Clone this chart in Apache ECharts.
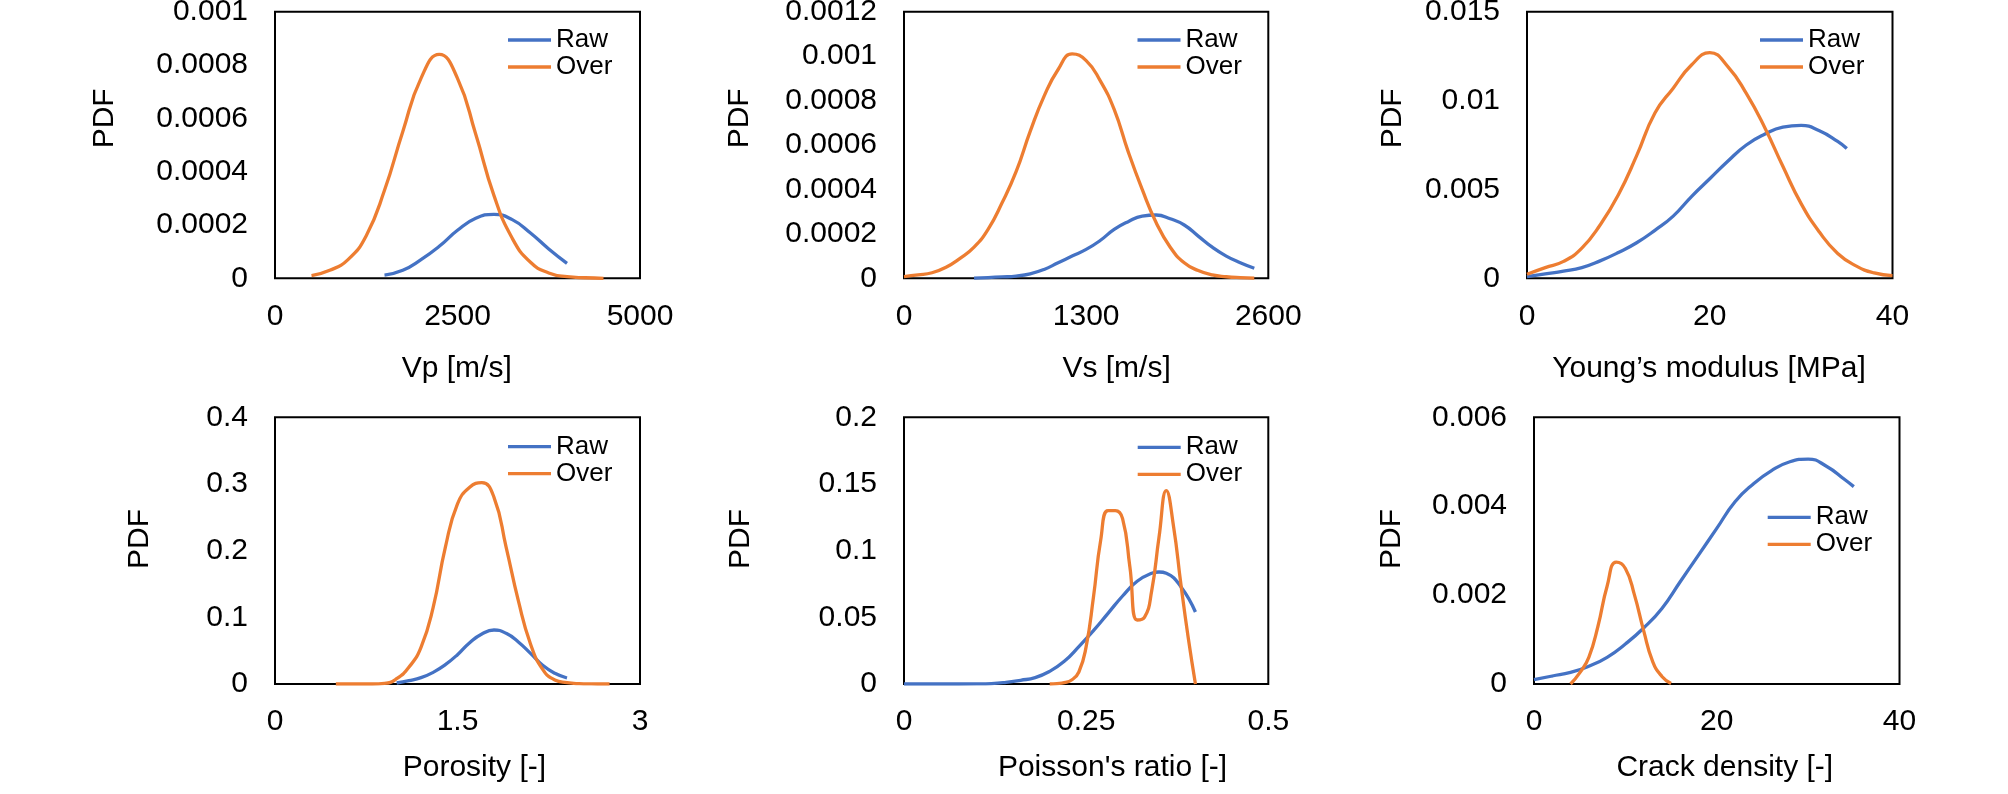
<!DOCTYPE html>
<html>
<head>
<meta charset="utf-8">
<title>PDF comparison</title>
<script src="https://cdn.jsdelivr.net/npm/echarts@6/dist/echarts.min.js"></script>
<style>
html, body { margin: 0; padding: 0; background: #fff; }
#main { width: 2008px; height: 794px; }
</style>
</head>
<body>
<div id="main"></div>
<script>
// ---- data ----
// Vp [m/s]
var vpRawX = [1500, 1750, 2000, 2250, 2500, 2750, 3000, 3250, 3500, 3750, 4000];
var vpRawY = [0.000012, 0.00003, 0.00007, 0.00012, 0.00018, 0.000225, 0.00024, 0.00022, 0.00017, 0.00011, 0.000056];
var vpOverX = [500, 750, 1000, 1250, 1500, 1750, 2000, 2250, 2500, 2750, 3000, 3250, 3500, 3750, 4000, 4250, 4500];
var vpOverY = [0.00001, 0.00003, 0.00007, 0.00016, 0.00033, 0.00055, 0.00075, 0.00084, 0.00075, 0.00054, 0.00031, 0.00015, 0.00006, 0.00002, 0.000006, 0.000002, 0];

// Vs [m/s]
var vsRawX = [500, 600, 700, 800, 900, 1000, 1100, 1200, 1300, 1400, 1500, 1600, 1700, 1800, 1900, 2000, 2100, 2200, 2300, 2400, 2500];
var vsRawY = [0.000001, 0.000003, 0.000006, 0.00001, 0.00002, 0.00004, 0.00007, 0.0001, 0.00013, 0.00017, 0.00022, 0.000255, 0.00028, 0.000285, 0.000268, 0.00024, 0.00019, 0.00014, 0.0001, 0.00007, 0.000045];
var vsOverX = [0, 100, 200, 300, 400, 500, 600, 700, 800, 900, 1000, 1100, 1200, 1300, 1400, 1500, 1600, 1700, 1800, 1900, 2000, 2100, 2200, 2300, 2400, 2500];
var vsOverY = [0.000008, 0.000015, 0.000025, 0.00005, 0.00009, 0.00014, 0.00022, 0.00034, 0.00048, 0.00066, 0.00082, 0.00094, 0.00101, 0.00098, 0.00089, 0.00076, 0.00057, 0.0004, 0.00025, 0.00014, 0.00007, 0.000035, 0.000015, 0.000007, 0.000003, 0.000001];

// Young's modulus [MPa]
var ymRawX = [0, 2, 4, 6, 8, 10, 12, 14, 16, 18, 20, 22, 24, 26, 28, 30, 32, 34, 35];
var ymRawY = [0.0001, 0.00025, 0.0004, 0.0006, 0.00098, 0.00145, 0.002, 0.0027, 0.0035, 0.0046, 0.0056, 0.0066, 0.0075, 0.0081, 0.0085, 0.0086, 0.0083, 0.0077, 0.0073];
var ymOverX = [0, 2, 4, 6, 8, 10, 12, 14, 16, 18, 20, 22, 24, 26, 28, 30, 32, 34, 36, 38, 40];
var ymOverY = [0.00023, 0.0006, 0.00095, 0.0017, 0.003, 0.0047, 0.0069, 0.0093, 0.0107, 0.012, 0.0127, 0.0119, 0.0104, 0.0085, 0.0063, 0.0042, 0.0026, 0.0014, 0.0007, 0.0003, 0.00015];

// Porosity [-]
var poRawX = [1.0, 1.1, 1.2, 1.3, 1.4, 1.5, 1.6, 1.7, 1.8, 1.9, 2.0, 2.1, 2.2, 2.3, 2.4];
var poRawY = [0.0015, 0.005, 0.0095, 0.0175, 0.029, 0.044, 0.062, 0.075, 0.081, 0.076, 0.063, 0.046, 0.028, 0.016, 0.009];
var poOverX = [0.5, 0.6, 0.7, 0.8, 0.9, 1.0, 1.1, 1.2, 1.3, 1.4, 1.5, 1.6, 1.7, 1.8, 1.9, 2.0, 2.1, 2.2, 2.3, 2.4, 2.5, 2.6, 2.7, 2.75];
var poOverY = [0, 0, 0, 0, 0.0008, 0.008, 0.025, 0.055, 0.115, 0.205, 0.27, 0.295, 0.302, 0.28, 0.205, 0.125, 0.06, 0.022, 0.006, 0.002, 0.0005, 0.0001, 0, 0];

// Poisson's ratio [-]
var prRawX = [0, 0.05, 0.1, 0.12, 0.14, 0.16, 0.18, 0.2, 0.22, 0.24, 0.26, 0.28, 0.3, 0.32, 0.34, 0.35, 0.36, 0.38, 0.4];
var prRawY = [0, 0, 0.0001, 0.0003, 0.0012, 0.0028, 0.0048, 0.0095, 0.017, 0.028, 0.04, 0.053, 0.066, 0.077, 0.083, 0.084, 0.083, 0.073, 0.054];
var prOverX = [0.2, 0.21, 0.22, 0.23, 0.24, 0.25, 0.26, 0.27, 0.28, 0.29, 0.3, 0.31, 0.32, 0.33, 0.34, 0.35, 0.36, 0.37, 0.38, 0.39, 0.4];
var prOverY = [0, 0.0003, 0.001, 0.003, 0.009, 0.028, 0.065, 0.108, 0.13, 0.13, 0.124, 0.088, 0.048, 0.05, 0.07, 0.11, 0.145, 0.118, 0.075, 0.035, 0];

// Crack density [-]
var cdRawX = [0, 2, 4, 6, 8, 10, 12, 14, 16, 18, 20, 22, 24, 26, 28, 30, 32, 34, 35];
var cdRawY = [0.0001, 0.00018, 0.00026, 0.0004, 0.0006, 0.0009, 0.00126, 0.0017, 0.0023, 0.0029, 0.0035, 0.0041, 0.0045, 0.0048, 0.005, 0.00506, 0.0049, 0.0046, 0.00444];
var cdOverX = [4, 5, 6, 7, 8, 9, 10, 11, 12, 13, 14, 15];
var cdOverY = [0, 0.00025, 0.0006, 0.0013, 0.0022, 0.00274, 0.0026, 0.002, 0.0012, 0.0005, 0.00017, 0.00001];

// axes: [min, max, interval]
var xRanges = [[0, 5000, 2500], [0, 2600, 1300], [0, 40, 20], [0, 3, 1.5], [0, 0.5, 0.25], [0, 40, 20]];
var yRanges = [[0, 0.001, 0.0002], [0, 0.0012, 0.0002], [0, 0.015, 0.005], [0, 0.4, 0.1], [0, 0.2, 0.05], [0, 0.006, 0.002]];
var xTitles = ['Vp [m/s]', 'Vs [m/s]', 'Young\u2019s modulus [MPa]', 'Porosity [-]', "Poisson's ratio [-]", 'Crack density [-]'];
var seriesNames = ['Raw', 'Over'];

// ---- layout ----
var gridBoxes = [
	[275, 11.7, 365, 266.6],
	[904, 11.7, 364.3, 266.6],
	[1527, 11.7, 365.5, 266.6],
	[275, 417.3, 365, 266.7],
	[904, 417.3, 364.3, 266.7],
	[1534, 417.3, 365.5, 266.7]
];
var pdfPos = [[105, 118.3], [740, 118.3], [1393, 118.3], [140, 539], [741, 539], [1392, 539]];
var titlePos = [[456.7, 368.5], [1116.6, 368.5], [1709, 368.5], [474.4, 767.7], [1112.5, 767.7], [1724.8, 767.7]];
var legendPos = [[508, 26.5], [1137.5, 26.5], [1760, 26.5], [508, 433.2], [1137.7, 433.8], [1767.7, 503.8]];

var FONT = '"Liberation Sans", Arial, sans-serif';
var BLUE = '#4472C4';
var ORANGE = '#ED7D31';
var LINE_W = 3.3;

var rawSets = [[vpRawX, vpRawY], [vsRawX, vsRawY], [ymRawX, ymRawY], [poRawX, poRawY], [prRawX, prRawY], [cdRawX, cdRawY]];
var overSets = [[vpOverX, vpOverY], [vsOverX, vsOverY], [ymOverX, ymOverY], [poOverX, poOverY], [prOverX, prOverY], [cdOverX, cdOverY]];

function pairs(xs, ys) {
	var out = [];
	for (var i = 0; i < xs.length; i++) {
		out.push([xs[i], ys[i]]);
	}
	return out;
}

function fmt(v) {
	return String(+v.toPrecision(6));
}

function lineSeries(name, color, idx, set) {
	return {
		name: name,
		type: 'line',
		xAxisIndex: idx,
		yAxisIndex: idx,
		data: pairs(set[0], set[1]),
		smooth: true,
		symbol: 'none',
		showSymbol: false,
		lineStyle: { color: color, width: LINE_W },
		itemStyle: { color: color },
		emphasis: { disabled: true }
	};
}

var grids = [], xAxes = [], yAxes = [], series = [], legends = [], graphics = [];

for (var i = 0; i < 6; i++) {
	var b = gridBoxes[i];
	grids.push({
		left: b[0], top: b[1], width: b[2], height: b[3],
		containLabel: false,
		outerBoundsMode: 'none',
		show: true,
		borderColor: '#000',
		borderWidth: 2,
		backgroundColor: 'transparent'
	});
	xAxes.push({
		type: 'value',
		gridIndex: i,
		min: xRanges[i][0], max: xRanges[i][1], interval: xRanges[i][2],
		axisLine: { show: false },
		axisTick: { show: false },
		splitLine: { show: false },
		axisLabel: {
			margin: 23, fontSize: 30, fontFamily: FONT, color: '#000',
			showMinLabel: true, showMaxLabel: true, hideOverlap: false,
			formatter: fmt
		}
	});
	yAxes.push({
		type: 'value',
		gridIndex: i,
		min: yRanges[i][0], max: yRanges[i][1], interval: yRanges[i][2],
		axisLine: { show: false },
		axisTick: { show: false },
		splitLine: { show: false },
		axisLabel: {
			margin: 27, fontSize: 30, fontFamily: FONT, color: '#000',
			showMinLabel: true, showMaxLabel: true, hideOverlap: false,
			formatter: fmt
		}
	});
	series.push(lineSeries(seriesNames[0], BLUE, i, rawSets[i]));
	series.push(lineSeries(seriesNames[1], ORANGE, i, overSets[i]));
	// legend icon drawn as a plain stroke, like the reference
	legends.push({
		data: seriesNames,
		orient: 'vertical',
		left: legendPos[i][0],
		top: legendPos[i][1],
		padding: 0,
		itemGap: 0,
		icon: 'rect',
		itemWidth: 43,
		itemHeight: LINE_W,
		selectedMode: false,
		textStyle: { fontSize: 26, fontFamily: FONT, color: '#000', lineHeight: 27, padding: 0 }
	});
	graphics.push({
		type: 'text',
		x: pdfPos[i][0], y: pdfPos[i][1],
		rotation: Math.PI / 2,
		style: {
			text: 'PDF', fill: '#000', fontSize: 30, fontFamily: FONT,
			align: 'center', verticalAlign: 'middle',
			textAlign: 'center', textVerticalAlign: 'middle'
		}
	});
	graphics.push({
		type: 'text',
		x: titlePos[i][0], y: titlePos[i][1],
		style: {
			text: xTitles[i], fill: '#000', fontSize: 30, fontFamily: FONT,
			align: 'center', verticalAlign: 'middle',
			textAlign: 'center', textVerticalAlign: 'middle'
		}
	});
}

var chart = echarts.init(document.getElementById('main'), null, { renderer: 'canvas' });
chart.setOption({
	backgroundColor: '#fff',
	animation: false,
	textStyle: { fontFamily: FONT },
	grid: grids,
	xAxis: xAxes,
	yAxis: yAxes,
	legend: legends,
	series: series,
	graphic: graphics
});
</script>
</body>
</html>
